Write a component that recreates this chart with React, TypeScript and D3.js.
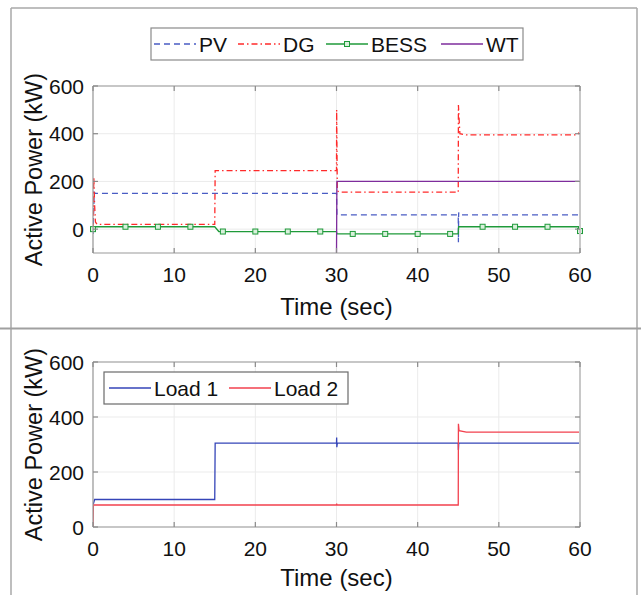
import React from 'react';
import * as d3 from 'd3';

// top panel series (time in s, power in kW)
const pvT = [0, 0.15, 0.3, 30, 30.05, 45, 45.02, 45.05, 45.1, 60];
const pvV = [-20, 155, 150, 150, 60, 60, -55, 70, 60, 60];

const dgT = [0, 0.1, 0.2, 0.3, 0.5, 15, 15.05, 30, 30.02, 30.1, 30.5, 45, 45.02, 45.2, 46, 59.7, 60];
const dgV = [0, 220, 100, 30, 20, 20, 245, 245, 500, 160, 155, 155, 520, 400, 395, 395, 410];

const bessT = [0, 0.3, 15, 15.5, 30, 30.05, 45, 45.05, 59.8, 60];
const bessV = [0, 10, 10, -10, -10, -20, -20, 10, 10, -8];
const bessMarkT = [0, 4, 8, 12, 16, 20, 24, 28, 32, 36, 40, 44, 48, 52, 56, 60];
const bessMarkV = [0, 10, 10, 10, -10, -10, -10, -10, -20, -20, -20, -20, 10, 10, 10, -8];

const wtT = [30, 30.05, 60];
const wtV = [-110, 200, 200];

// bottom panel series
const load1T = [0, 0.2, 15, 15.05, 30, 30.02, 30.04, 30.1, 45, 45.02, 45.06, 60];
const load1V = [80, 100, 100, 305, 305, 325, 290, 305, 305, 280, 305, 305];
const load2T = [0, 0.05, 30, 30.02, 30.05, 45, 45.02, 45.1, 46, 60];
const load2V = [0, 80, 80, 85, 80, 80, 375, 350, 345, 345];

const xTicks = [0, 10, 20, 30, 40, 50, 60];
const yTicksTop = [0, 200, 400, 600];
const yTicksBottom = [0, 200, 400, 600];

const FONT = '"Liberation Sans", Arial, sans-serif';

const C = {
  pv: '#4a5cc4',
  dg: '#ff2a2a',
  bess: '#1f9a3a',
  wt: '#7e2c9c',
  load1: '#3545b8',
  load2: '#f2404e',
};

type Series = { t: number[]; v: number[]; color: string; dash?: string };

function Panel({ top, bottom, yDomain, yTicks, series, markers, clipId, titleGap }: any) {
  const left = 93, right = 580;
  const x = d3.scaleLinear().domain([0, 60]).range([left, right]);
  const y = d3.scaleLinear().domain(yDomain).range([bottom, top]);
  const line = d3.line<[number, number]>().x(d => x(d[0])).y(d => y(d[1]));
  return (
    <g>
      <defs>
        <clipPath id={clipId}>
          <rect x={left} y={top} width={right - left} height={bottom - top} />
        </clipPath>
      </defs>
      <rect x={left} y={top} width={right - left} height={bottom - top} fill="#fff" />
      {xTicks.map(t => (
        <line key={'gx' + t} x1={x(t)} x2={x(t)} y1={top} y2={bottom} stroke="#ebebeb" strokeWidth={1} />
      ))}
      {yTicks.map((t: number) => (
        <line key={'gy' + t} x1={left} x2={right} y1={y(t)} y2={y(t)} stroke="#ebebeb" strokeWidth={1} />
      ))}
      <g clipPath={`url(#${clipId})`}>
        {series.map((s: Series, i: number) => (
          <path key={i} d={line(s.t.map((t, j) => [t, s.v[j]]) as [number, number][]) || ''}
            fill="none" stroke={s.color} strokeWidth={1.3} strokeDasharray={s.dash} />
        ))}
      </g>
      {markers && markers.t.map((t: number, i: number) => (
        <rect key={'m' + i} x={x(t) - 2.5} y={y(markers.v[i]) - 2.5} width={5} height={5}
          fill="#d9f0dc" stroke={markers.color} strokeWidth={1} />
      ))}
      {/* axes box */}
      <line x1={left} x2={right} y1={top} y2={top} stroke="#9a9a9a" strokeWidth={1.2} />
      <line x1={right} x2={right} y1={top} y2={bottom} stroke="#c8c8c8" strokeWidth={2} />
      <line x1={left} x2={left} y1={top} y2={bottom} stroke="#9a9a9a" strokeWidth={1.2} />
      <line x1={left} x2={right} y1={bottom} y2={bottom} stroke="#9a9a9a" strokeWidth={1.2} />
      {xTicks.map(t => (
        <g key={'tx' + t}>
          <line x1={x(t)} x2={x(t)} y1={bottom} y2={bottom - 5} stroke="#8a8a8a" strokeWidth={1.2} />
          <line x1={x(t)} x2={x(t)} y1={top} y2={top + 5} stroke="#8a8a8a" strokeWidth={1.2} />
          <text x={x(t)} y={bottom + 29} textAnchor="middle" fontSize={21} fontFamily={FONT} fill="#111">{t}</text>
        </g>
      ))}
      {yTicks.map((t: number) => (
        <g key={'ty' + t}>
          <line x1={left} x2={left + 5} y1={y(t)} y2={y(t)} stroke="#8a8a8a" strokeWidth={1.2} />
          <line x1={right} x2={right - 5} y1={y(t)} y2={y(t)} stroke="#8a8a8a" strokeWidth={1.2} />
          <text x={left - 9} y={y(t) + 7.5} textAnchor="end" fontSize={21} fontFamily={FONT} fill="#111">{t}</text>
        </g>
      ))}
      <text x={(left + right) / 2} y={bottom + titleGap} textAnchor="middle" fontSize={24} fontFamily={FONT} fill="#111">Time (sec)</text>
      <text transform={`translate(42,${(top + bottom) / 2}) rotate(-90)`} textAnchor="middle" fontSize={23.5}
        fontFamily={FONT} fill="#111">Active Power (kW)</text>
    </g>
  );
}

function LegendItem({ x0, y0, color, dash, label, marker }: any) {
  return (
    <g>
      <line x1={x0} x2={x0 + 42} y1={y0} y2={y0} stroke={color} strokeWidth={1.3} strokeDasharray={dash} />
      {marker && <rect x={x0 + 18.5} y={y0 - 2.5} width={5} height={5} fill="#d9f0dc" stroke={color} strokeWidth={1} />}
      <text x={x0 + 45} y={y0 + 7.5} fontSize={21} fontFamily={FONT} fill="#111">{label}</text>
    </g>
  );
}

export default function App() {
  const topSeries: Series[] = [
    { t: pvT, v: pvV, color: C.pv, dash: '6,4' },
    { t: dgT, v: dgV, color: C.dg, dash: '6,3,1.5,3' },
    { t: bessT, v: bessV, color: C.bess },
    { t: wtT, v: wtV, color: C.wt },
  ];
  const botSeries: Series[] = [
    { t: load1T, v: load1V, color: C.load1 },
    { t: load2T, v: load2V, color: C.load2 },
  ];
  return (
    <div>
      <style>{`body{margin:0}`}</style>
      <svg width={641} height={595} style={{ display: 'block', background: '#fff' }}>
        <rect x={0} y={0} width={641} height={595} fill="#fff" />
        {/* panel frames */}
        <line x1={11} x2={11} y1={8} y2={595} stroke="#a8a8a8" strokeWidth={1.5} />
        <line x1={637} x2={637} y1={8} y2={595} stroke="#a8a8a8" strokeWidth={1.5} />
        <line x1={11} x2={637} y1={8} y2={8} stroke="#a8a8a8" strokeWidth={1.5} />
        <line x1={0} x2={641} y1={328.5} y2={328.5} stroke="#a0a0a0" strokeWidth={2} />

        <Panel top={86} bottom={253} yDomain={[-100, 600]} yTicks={yTicksTop} series={topSeries}
          markers={{ t: bessMarkT, v: bessMarkV, color: C.bess }} clipId="clipTop" titleGap={62} />
        <Panel top={362} bottom={527} yDomain={[0, 600]} yTicks={yTicksBottom} series={botSeries}
          clipId="clipBot" titleGap={59} />

        {/* top legend */}
        <rect x={151} y={28} width={372} height={32} fill="#fff" stroke="#8a8a8a" strokeWidth={1.2} />
        <LegendItem x0={154} y0={44} color={C.pv} dash="6,4" label="PV" />
        <LegendItem x0={238} y0={44} color={C.dg} dash="6,3,1.5,3" label="DG" />
        <LegendItem x0={326} y0={44} color={C.bess} label="BESS" marker />
        <LegendItem x0={441} y0={44} color={C.wt} label="WT" />

        {/* bottom legend */}
        <rect x={104} y={372} width={244} height={32} fill="#fff" stroke="#6a6a6a" strokeWidth={1.2} />
        <LegendItem x0={109} y0={388} color={C.load1} label="Load 1" />
        <LegendItem x0={229} y0={388} color={C.load2} label="Load 2" />
      </svg>
    </div>
  );
}
